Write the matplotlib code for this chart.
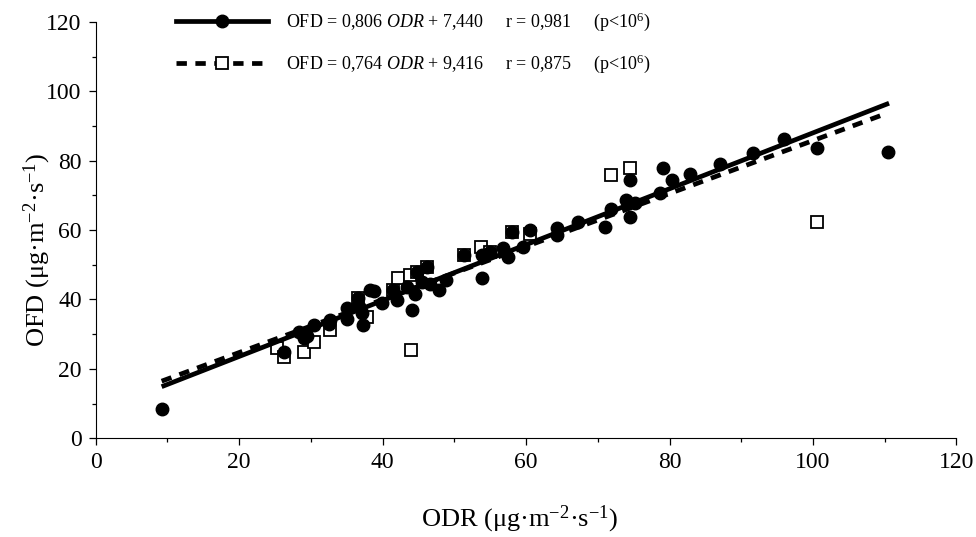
import numpy as np
import matplotlib
matplotlib.use("Agg")
import matplotlib.pyplot as plt
from matplotlib.lines import Line2D
from matplotlib.ticker import MultipleLocator

plt.rcParams.update({
    "font.family": "Liberation Serif",
    "mathtext.fontset": "custom",
    "mathtext.rm": "Liberation Serif",
    "mathtext.it": "Liberation Serif:italic",
})

# série 1 (cercles pleins) : ODR, OFD
odr1 = [9.2, 26.2, 29.0, 28.3, 29.5, 30.4, 32.7, 32.5, 35.0, 35.0, 37.3, 37.1,
        36.6, 36.6, 38.3, 38.8, 39.9, 41.5, 42.0, 43.4, 44.1, 44.5, 44.8, 46.2,
        46.6, 47.8, 48.9, 45.5, 53.8, 51.3, 53.8, 55.0, 56.8, 57.5, 58.0, 59.6,
        60.6, 64.3, 64.3, 67.3, 71.0, 71.9, 74.0, 75.2, 74.5, 74.5, 78.7, 79.1,
        80.3, 82.9, 87.0, 91.7, 95.9, 100.6, 110.4]
ofd1 = [8.3, 24.9, 28.8, 30.7, 29.5, 32.6, 34.0, 33.0, 34.5, 37.4, 32.6, 36.0,
        38.5, 40.3, 42.7, 42.5, 38.9, 42.7, 39.8, 43.6, 36.9, 41.7, 48.0, 49.4,
        44.6, 42.7, 45.6, 45.0, 46.1, 52.8, 52.8, 53.7, 54.7, 52.3, 59.5, 55.2,
        60.0, 60.5, 58.5, 62.4, 60.9, 66.2, 68.6, 67.7, 63.8, 74.4, 70.6, 77.8,
        74.4, 76.3, 79.2, 82.1, 86.4, 83.6, 82.6]

# série 2 (carrés vides)
odr2 = [25.3, 26.3, 29.0, 30.4, 32.7, 36.6, 37.8, 41.5, 42.2, 43.8, 44.8, 46.2,
        44.0, 51.3, 53.7, 55.0, 58.0, 60.6, 71.9, 74.5, 100.6]
ofd2 = [25.9, 23.3, 24.9, 27.8, 31.2, 40.3, 35.0, 42.7, 46.1, 47.0, 48.0, 49.4,
        25.4, 52.8, 55.2, 53.7, 59.5, 59.0, 75.9, 77.8, 62.2]

# droites de régression (pente, ordonnée, étendue en x)
fit1 = (0.806, 7.440, 9.2, 110.6)
fit2 = (0.764, 9.416, 9.2, 109.6)
lab1 = r"OFD = 0,806 $\it{ODR}$ + 7,440     r = 0,981     (p<10$^6$)"
lab2 = r"OFD = 0,764 $\it{ODR}$ + 9,416     r = 0,875     (p<10$^6$)"

fig = plt.figure(figsize=(9.76, 5.37), dpi=100)
ax = fig.add_axes([0.098, 0.184, 0.882, 0.775])

ax.plot(odr2, ofd2, ls="none", marker="s", ms=8, mfc="white", mec="black",
        mew=1.3, zorder=2)
ax.plot(odr1, ofd1, ls="none", marker="o", ms=9, color="black", zorder=3)

x1 = np.array(fit1[2:])
ax.plot(x1, fit1[0] * x1 + fit1[1], color="black", lw=3.4, zorder=4,
        solid_capstyle="butt")
x2 = np.array(fit2[2:])
ax.plot(x2, fit2[0] * x2 + fit2[1], color="black", lw=3.4, zorder=4,
        ls=(0, (2.2, 1.8)))

ax.set_xlim(0, 120); ax.set_ylim(0, 120)
ax.xaxis.set_major_locator(MultipleLocator(20)); ax.xaxis.set_minor_locator(MultipleLocator(10))
ax.yaxis.set_major_locator(MultipleLocator(20)); ax.yaxis.set_minor_locator(MultipleLocator(10))
ax.spines["top"].set_visible(False); ax.spines["right"].set_visible(False)
ax.tick_params(which="major", length=5, width=0.9, labelsize=17, pad=5)
ax.tick_params(which="minor", length=3, width=0.9)
ax.set_xlabel(r"ODR (μg·m$^{\mathregular{-2}}$·s$^{\mathregular{-1}}$)", fontsize=19)
ax.set_ylabel(r"OFD (μg·m$^{\mathregular{-2}}$·s$^{\mathregular{-1}}$)", fontsize=19)
ax.xaxis.set_label_coords(0.493, -0.158)
ax.yaxis.set_label_coords(-0.050, 0.452)

h1 = Line2D([], [], color="black", lw=3.4, marker="o", ms=9)
h2 = Line2D([], [], color="black", lw=3.4, ls=(0, (2.2, 1.8)), marker="s", ms=8,
            mfc="white", mec="black", mew=1.3)
fig.legend([h1, h2], [lab1, lab2], loc="upper left", bbox_to_anchor=(0.164, 1.01),
           frameon=False, fontsize=13, handlelength=5.1, labelspacing=1.05,
           handletextpad=1.0)

fig.savefig("out.png", dpi=100)
